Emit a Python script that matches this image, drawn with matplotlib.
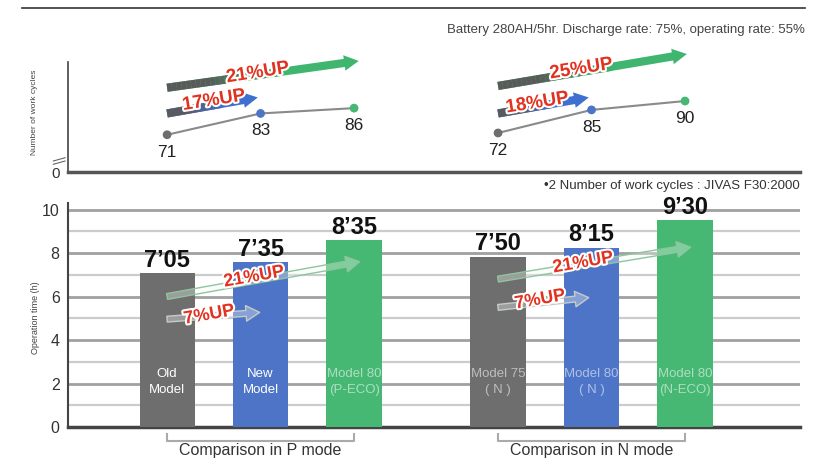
import matplotlib.pyplot as plt
import matplotlib.patheffects as pe
from matplotlib.lines import Line2D
from matplotlib.collections import LineCollection
import numpy as np

plt.rcParams['font.family'] = ['Liberation Sans Narrow', 'Liberation Sans', 'DejaVu Sans']

# ---- data ----
group_names = ["Comparison in P mode", "Comparison in N mode"]
group_x = [0.0, 3.54]
offsets = [0, 1, 2]
bar_names = ["Old\nModel", "New\nModel", "Model 80\n(P-ECO)",
             "Model 75\n( N )", "Model 80\n( N )", "Model 80\n(N-ECO)"]
hours = [7.08, 7.58, 8.58, 7.83, 8.25, 9.50]
hour_labels = ["7\u201905", "7\u201935", "8\u201935", "7\u201950", "8\u201915", "9\u201930"]
cycles = [71, 83, 86, 72, 85, 90]
cycle_up = [["17%UP", "21%UP"], ["18%UP", "25%UP"]]
time_up = [["7%UP", "21%UP"], ["7%UP", "21%UP"]]
colors = ["#6e6e6e", "#4d74c6", "#46b873"]

W, H = 814, 461
fig = plt.figure(figsize=(8.14, 4.61), dpi=100)


def fx(px):
    return px / W


def fy(py):
    return 1 - py / H


ax1 = fig.add_axes([fx(68), fy(172), fx(800) - fx(68), fy(62) - fy(172)])
ax2 = fig.add_axes([fx(68), fy(427), fx(800) - fx(68), fy(203) - fy(427)])
xl = (-1.06, 6.77)

red = "#e2311f"
stroke = [pe.withStroke(linewidth=3, foreground="white")]


def grad_arrow(ax, p0, p1, c_end, c_start="#5a5a5a"):
    ax.annotate("", xy=p1, xytext=p0, annotation_clip=False,
                arrowprops=dict(arrowstyle="simple,head_width=0.8,head_length=0.75,tail_width=0.42",
                                color=c_end, lw=0, mutation_scale=14, shrinkA=0, shrinkB=0))
    t = np.linspace(0, 0.6, 25)
    xs = p0[0] + (p1[0] - p0[0]) * t
    ys = p0[1] + (p1[1] - p0[1]) * t
    segs = [[(xs[i], ys[i]), (xs[i + 1], ys[i + 1])] for i in range(len(t) - 1)]
    cs = np.array(plt.matplotlib.colors.to_rgb(c_start))
    ce = np.array(plt.matplotlib.colors.to_rgb(c_end))
    k = np.clip((t[:-1] - 0.2) / 0.4, 0, 1)[:, None]
    cols = cs * (1 - k) + ce * k
    lc = LineCollection(segs, colors=cols, linewidths=5.9, capstyle="butt", clip_on=False, zorder=4)
    ax.add_collection(lc)


# ---- top chart: work cycles ----
ax1.set_xlim(*xl)
ax1.set_ylim(50, 112)
top_arrows = [
    [((0, 83.0), (0.97, 92.0), "#3f6fd0", (0.5, 90.2)),
     ((0, 97.5), (2.05, 112.6), "#3fb56f", (0.97, 105.8))],
    [((3.54, 83.0), (4.51, 92.0), "#3f6fd0", (3.96, 88.8)),
     ((3.54, 98.5), (5.56, 116.5), "#3fb56f", (4.43, 108.0))],
]
for g in range(2):
    xs = [group_x[g] + o for o in offsets]
    ys = cycles[g * 3:(g + 1) * 3]
    ax1.plot(xs, ys, color="#8a8a8a", lw=1.5, zorder=2)
    ax1.scatter(xs, ys, c=colors, s=28, zorder=3)
    for x, y in zip(xs, ys):
        ax1.annotate(str(y), (x, y), xytext=(0, -12.5), textcoords="offset points",
                     ha="center", va="center", fontsize=12.5, color="#222")
    for (p0, p1, c, lp), lab in zip(top_arrows[g], cycle_up[g]):
        grad_arrow(ax1, p0, p1, c)
        ax1.text(lp[0], lp[1], lab, color=red, fontsize=13.5, fontweight="bold",
                 rotation=9, ha="center", va="center", path_effects=stroke, zorder=6,
                 clip_on=False)

for s in ["top", "right"]:
    ax1.spines[s].set_visible(False)
ax1.spines["left"].set_color("#444")
ax1.spines["left"].set_linewidth(1.2)
ax1.spines["bottom"].set_color("#555")
ax1.spines["bottom"].set_linewidth(2.5)
ax1.set_xticks([])
ax1.set_yticks([50])
ax1.set_yticklabels(["0"], fontsize=11, color="#333")
ax1.tick_params(axis="y", length=0, pad=6)
ax1.plot([-0.02, -0.004], [0.07, 0.1], transform=ax1.transAxes, color="#666", lw=0.8, clip_on=False)
ax1.plot([-0.02, -0.004], [0.1, 0.13], transform=ax1.transAxes, color="#666", lw=0.8, clip_on=False)

# ---- bottom chart: operation time ----
ax2.set_xlim(*xl)
ax2.set_ylim(0, 10.3)
xpos = [group_x[g] + o for g in range(2) for o in offsets]
bar_cols = colors * 2
ax2.bar(xpos, hours, width=0.59, color=bar_cols, zorder=3)
for i, (x, h) in enumerate(zip(xpos, hours)):
    ax2.text(x, h + 0.06, hour_labels[i], ha="center", va="bottom",
             fontsize=17, fontweight="bold", color="#111", zorder=5)
    ax2.text(x, 2.07, bar_names[i], ha="center", va="center", color="white",
             fontsize=9.5, linespacing=1.35, alpha=1.0 if i < 2 else 0.55, zorder=5)

ax2.set_yticks(range(0, 11, 2))
ax2.set_yticks(range(1, 11, 2), minor=True)
ax2.yaxis.grid(True, which="major", color="#a0a0a0", lw=2, zorder=1)
ax2.yaxis.grid(True, which="minor", color="#cccccc", lw=1.6, zorder=1)
ax2.tick_params(axis="y", which="both", length=0, labelsize=11.5, labelcolor="#333", pad=6)
ax2.set_xticks([])
for s in ["top", "right"]:
    ax2.spines[s].set_visible(False)
ax2.spines["left"].set_color("#444")
ax2.spines["left"].set_linewidth(1.5)
ax2.spines["bottom"].set_color("#444")
ax2.spines["bottom"].set_linewidth(2.5)
ax2.set_axisbelow(True)

bot_arrows = [
    [((0, 4.96), (0.99, 5.27), (0.45, 5.15)), ((0, 6.0), (2.06, 7.6), (0.93, 6.9))],
    [((3.54, 5.5), (4.51, 5.95), (3.99, 5.85)), ((3.54, 6.8), (5.6, 8.27), (4.45, 7.55))],
]
for g in range(2):
    for k, ((p0, p1, lp), lab) in enumerate(zip(bot_arrows[g], time_up[g])):
        ec = "#c4ccc6" if k == 0 else "#8cc79b"
        ax2.annotate("", xy=p1, xytext=p0, zorder=4,
                     arrowprops=dict(arrowstyle="simple,head_width=0.8,head_length=0.7,tail_width=0.3",
                                     fc=(0.96, 0.97, 0.96, 0.35), ec=ec, lw=1,
                                     mutation_scale=14, shrinkA=0, shrinkB=0))
        ax2.text(lp[0], lp[1], lab, color=red, fontsize=13, fontweight="bold",
                 rotation=10, ha="center", va="center", path_effects=stroke, zorder=6)

    x0 = group_x[g]
    ax2.plot([x0, x0, x0 + 2, x0 + 2], [-0.3, -0.65, -0.65, -0.3], color="#aaaaaa",
             lw=1.5, clip_on=False)
    ax2.text(x0 + 1, -1.08, group_names[g], ha="center", va="center",
             fontsize=11.5, color="#333")

# ---- figure texts ----
fig.add_artist(Line2D([fx(22), fx(805)], [fy(8), fy(8)], color="#333", lw=1.2))
fig.text(fx(805), fy(30), "Battery 280AH/5hr. Discharge rate: 75%, operating rate: 55%",
         ha="right", va="center", fontsize=9.5, color="#444")
fig.text(fx(800), fy(186), "\u20222 Number of work cycles : JIVAS F30:2000",
         ha="right", va="center", fontsize=9.5, color="#333")
fig.text(fx(35), fy(112), "Number of work cycles", rotation=90, ha="center", va="center",
         fontsize=6, color="#444")
fig.text(fx(35), fy(318), "Operation time (h)", rotation=90, ha="center", va="center",
         fontsize=6.5, color="#444")

fig.savefig("out.png", dpi=100)
